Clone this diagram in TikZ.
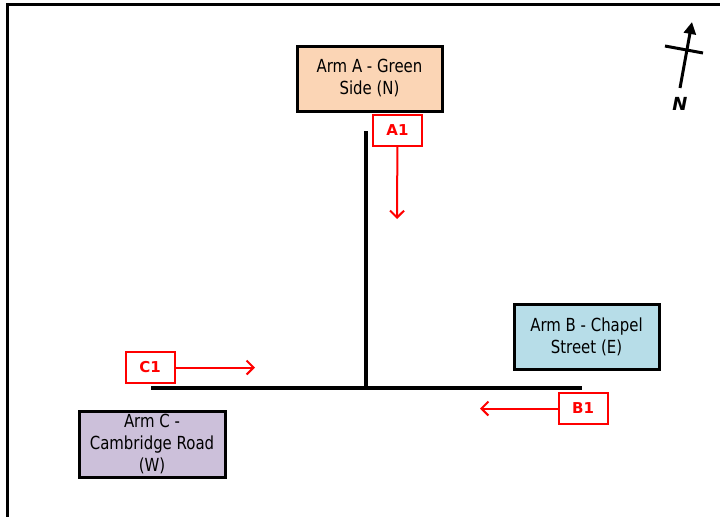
\documentclass[tikz,border=0pt]{standalone}
\usepackage{fontspec}
\setmainfont{DejaVu Sans}
\newfontfamily\armfont[FakeStretch=0.83]{DejaVu Sans}
\usepackage{tikz}
\usetikzlibrary{arrows.meta}
\definecolor{cArmA}{HTML}{FBD5B5}
\definecolor{cArmB}{HTML}{B7DDE8}
\definecolor{cArmC}{HTML}{CCC0DA}
\definecolor{cRed}{HTML}{FF0000}
\tikzset{
  arm/.style={draw=black, line width=3pt, align=center, inner sep=0pt,
              font=\armfont\fontsize{18}{22}\selectfont},
  lbl/.style={draw=cRed, line width=2pt, fill=white, text=cRed,
              minimum width=49pt, minimum height=31pt, inner sep=0pt,
              font=\fontsize{15}{16}\selectfont\bfseries},
  flow/.style={-{Straight Barb[length=7pt,width=14pt]}, cRed, line width=2pt},
  road/.style={line width=3.5pt, black}
}
\begin{document}
\begin{tikzpicture}[x=1pt, y=-1pt]
\useasboundingbox (0,0) rectangle (720,517);
% frame
\draw[line width=3pt] (720,4) -- (7,4) -- (7,517);
% approaches
\node[arm, fill=cArmA, minimum width=145pt, minimum height=65pt] (armA) at (369.5,78.5) {Arm A - Green\\Side (N)};
\node[arm, fill=cArmB, minimum width=145pt, minimum height=65pt] (armB) at (586.5,336.5) {Arm B - Chapel\\Street (E)};
\node[arm, fill=cArmC, minimum width=146pt, minimum height=66pt] (armC) at (152,444) {Arm C -\\Cambridge Road\\(W)};
% roads
\coordinate (nEnd) at (366,131);
\coordinate (jn) at (366,388);
\coordinate (wEnd) at (151,388);
\coordinate (eEnd) at (582,388);
\draw[road] (nEnd) -- (jn);
\draw[road] (wEnd) -- (eEnd);
% turning counts
\node[lbl] (a1) at (397.5,130.5) {A1};
\node[lbl] (b1) at (583,408.5) {B1};
\node[lbl] (c1) at (150,367.5) {C1};
\coordinate (a1end) at (397,219);
\coordinate (b1end) at (480,408.5);
\coordinate (c1end) at (255,367.5);
\draw[flow] (a1) -- (a1end);
\draw[flow] (b1) -- (b1end);
\draw[flow] (c1) -- (c1end);
% north point
\coordinate (nTail) at (680,88);
\coordinate (nHead) at (692,22);
\draw[line width=3pt, -{Triangle[length=12pt,width=12pt]}] (nTail) -- (nHead);
\draw[line width=3pt] (665,46) -- (703,53);
\node[font=\fontsize{18}{18}\selectfont\bfseries\itshape] (nLbl) at (680,104) {N};
\end{tikzpicture}
\end{document}
